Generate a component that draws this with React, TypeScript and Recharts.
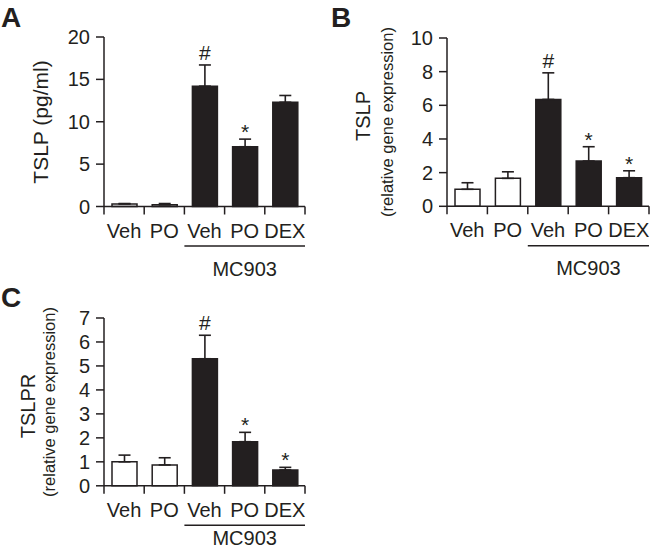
import React from 'react';
import { BarChart, Bar, XAxis, YAxis, ErrorBar, Cell, LabelList } from 'recharts';

// groups on the x axis
const categories = ['Veh', 'PO', 'Veh', 'PO', 'DEX'];
const mc903Treated = [false, false, true, true, true];
const groupLabel = 'MC903';

// A: TSLP protein (pg/ml)
const tslpProtein = [0.3, 0.2, 14.2, 7.05, 12.3];
const tslpProteinErr = [0.05, 0.15, 2.5, 0.9, 0.8];
const tslpProteinSig = ['', '', '#', '*', ''];

// B: TSLP mRNA
const tslpMrna = [1.01, 1.66, 6.35, 2.69, 1.7];
const tslpMrnaErr = [0.39, 0.39, 1.58, 0.85, 0.41];
const tslpMrnaSig = ['', '', '#', '*', '*'];

// C: TSLPR mRNA
const tslprMrna = [1.0, 0.87, 5.3, 1.84, 0.66];
const tslprMrnaErr = [0.28, 0.3, 0.98, 0.39, 0.11];
const tslprMrnaSig = ['', '', '#', '*', '*'];

const ticksA = [0, 5, 10, 15, 20];
const ticksB = [0, 2, 4, 6, 8, 10];
const ticksC = [0, 1, 2, 3, 4, 5, 6, 7];

const FONT = '"Liberation Sans", Arial, Helvetica, sans-serif';
const INK = '#231f20';
const FS = 20;

const makeRows = (values: number[], errs: number[], sigs: string[]) =>
  categories.map((name, i) => ({
    name,
    value: values[i],
    err: errs[i],
    sig: sigs[i],
    treated: mc903Treated[i],
  }));

const CategoryTick = (props: any) => {
  const { x, y, payload, index, groupY } = props;
  const half = payload && payload.offset ? payload.offset : 20;
  return (
    <g>
      {index === 0 && <line x1={x - half} x2={x - half} y1={y} y2={y + 8} stroke={INK} strokeWidth={1.5} />}
      <line x1={x + half} x2={x + half} y1={y} y2={y + 8} stroke={INK} strokeWidth={1.5} />
      <text x={x} y={y + 31} textAnchor="middle" fill={INK} fontSize={FS} fontFamily={FONT}>
        {payload.value}
      </text>
      {index === 3 && (
        <g>
          <line x1={x - 3 * half} x2={x + 3 * half} y1={y + 39.5} y2={y + 39.5} stroke={INK} strokeWidth={1.5} />
          <text x={x} y={y + groupY} textAnchor="middle" fill={INK} fontSize={FS} fontFamily={FONT}>
            {groupLabel}
          </text>
        </g>
      )}
    </g>
  );
};

const SigLabel = (props: any) => {
  const vb = props.viewBox || props;
  const { x, y, width, height } = vb;
  const [sig, val, err] = String(props.value).split('|');
  if (!sig) return null;
  const top = y - (Number(err) * height) / Number(val);
  return (
    <text x={x + width / 2} y={sig === '#' ? top - 5 : top} textAnchor="middle" fill={INK} fontSize={21} fontFamily={FONT}>
      {sig}
    </text>
  );
};

type Title = { text: string; x: number; y: number; size: number };

type PanelProps = {
  letter: string;
  left: number;
  top: number;
  width: number;
  height: number;
  plotLeft: number;
  plotTop: number;
  plotRight: number;
  plotBottom: number;
  groupY: number;
  values: number[];
  errs: number[];
  sigs: string[];
  ticks: number[];
  titles: Title[];
};

const Panel = (p: PanelProps) => {
  const rows = makeRows(p.values, p.errs, p.sigs);
  const max = p.ticks[p.ticks.length - 1];
  return (
    <div style={{ position: 'absolute', left: p.left, top: p.top, width: p.width, height: p.height }}>
      <BarChart
        width={p.width}
        height={p.height}
        data={rows}
        margin={{ top: p.plotTop, right: p.width - p.plotRight, left: 0, bottom: 0 }}
        barSize={25}
      >
        <XAxis
          dataKey="name"
          height={p.height - p.plotBottom}
          axisLine={{ stroke: INK, strokeWidth: 1.5 }}
          tickLine={false}
          tickSize={0}
          tickMargin={0}
          interval={0}
          tick={<CategoryTick groupY={p.groupY} />}
        />
        <YAxis
          width={p.plotLeft}
          domain={[0, max]}
          ticks={p.ticks}
          interval={0}
          axisLine={{ stroke: INK, strokeWidth: 1.5 }}
          tickLine={{ stroke: INK, strokeWidth: 1.5 }}
          tickSize={8}
          tickMargin={6}
          tick={{ fill: INK, fontSize: FS, fontFamily: FONT }}
        />
        <Bar dataKey="value" isAnimationActive={false} stroke={INK} strokeWidth={1.5}>
          {rows.map((r, i) => (
            <Cell key={i} fill={r.treated ? INK : '#ffffff'} />
          ))}
          <ErrorBar
            dataKey={(d: any) => [0, d.err]}
            width={6}
            stroke={INK}
            strokeWidth={1.6}
            direction="y"
            isAnimationActive={false}
          />
          <LabelList dataKey={(d: any) => `${d.sig}|${d.value}|${d.err}`} content={<SigLabel />} />
        </Bar>
      </BarChart>
      <svg
        width={p.width}
        height={p.height}
        style={{ position: 'absolute', left: 0, top: 0, pointerEvents: 'none' }}
      >
        <text x={1} y={27} fontSize={28} fontWeight="bold" fill={INK} fontFamily={FONT}>
          {p.letter}
        </text>
        {p.titles.map((t, i) => (
          <text
            key={i}
            x={t.x}
            y={t.y}
            transform={`rotate(-90 ${t.x} ${t.y})`}
            textAnchor="middle"
            dominantBaseline="central"
            fontSize={t.size}
            fill={INK}
            fontFamily={FONT}
          >
            {t.text}
          </text>
        ))}
      </svg>
    </div>
  );
};

export default function App() {
  return (
    <div style={{ position: 'absolute', left: 0, top: 0, width: 652, height: 550, background: '#fff' }}>
      <Panel
        letter="A"
        left={0}
        top={0}
        width={330}
        height={280}
        plotLeft={104}
        plotTop={37}
        plotRight={305}
        plotBottom={206.5}
        groupY={69}
        values={tslpProtein}
        errs={tslpProteinErr}
        sigs={tslpProteinSig}
        ticks={ticksA}
        titles={[{ text: 'TSLP (pg/ml)', x: 40, y: 122, size: 21 }]}
      />
      <Panel
        letter="B"
        left={330}
        top={0}
        width={322}
        height={280}
        plotLeft={117}
        plotTop={38}
        plotRight={319}
        plotBottom={206.3}
        groupY={69}
        values={tslpMrna}
        errs={tslpMrnaErr}
        sigs={tslpMrnaSig}
        ticks={ticksB}
        titles={[
          { text: 'TSLP', x: 33, y: 116, size: 20 },
          { text: '(relative gene expression)', x: 57, y: 122, size: 16.5 },
        ]}
      />
      <Panel
        letter="C"
        left={0}
        top={280}
        width={330}
        height={270}
        plotLeft={104}
        plotTop={38}
        plotRight={305}
        plotBottom={205.8}
        groupY={59}
        values={tslprMrna}
        errs={tslprMrnaErr}
        sigs={tslprMrnaSig}
        ticks={ticksC}
        titles={[
          { text: 'TSLPR', x: 28, y: 126, size: 20 },
          { text: '(relative gene expression)', x: 49, y: 122, size: 16.5 },
        ]}
      />
    </div>
  );
}
